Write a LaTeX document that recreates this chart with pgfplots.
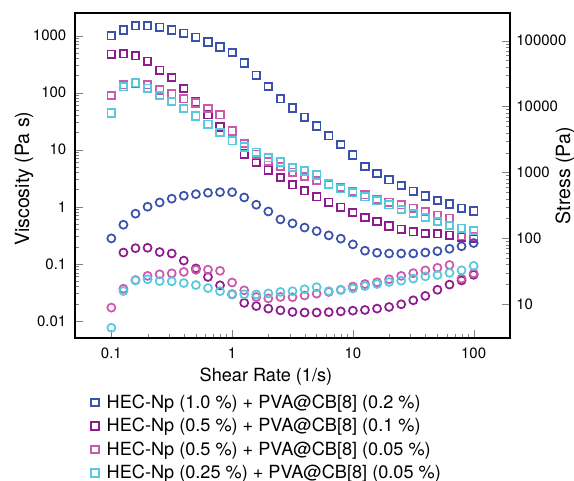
\documentclass[border=0pt]{standalone}
\usepackage{fontspec}
\setmainfont{TeX Gyre Heros}
\usepackage{pgfplots}
\usepackage{pgfplotstable}
\pgfplotsset{compat=1.18}
\definecolor{cblue}{HTML}{3A52AE}
\definecolor{cdark}{HTML}{8E1C8E}
\definecolor{cpink}{HTML}{CA5AAC}
\definecolor{ccyan}{HTML}{58C8DE}

% viscosity (Pa s)
\pgfplotstableread{
x       blue   dark   pink   cyan
0.1     1000   473    89     44
0.1259  1260   484    138    127
0.1585  1500   447    147    149
0.1995  1500   357    138    120
0.2512  1400   248    112    89
0.3162  1260   185    95     70
0.3981  1100   118    78     53
0.5012  940    69     66     39
0.631   775    41     53     28
0.7943  635    25     41     20
1       505    14.4   21.3   14.4
1.259   333    8.4    12.9   11.2
1.585   203    6.0    8.3    9.0
1.995   128    4.35   6.2    7.2
2.512   78     3.25   5.1    6.1
3.162   54     2.43   4.05   4.9
3.981   37     1.9    3.4    4.25
5.012   26     1.5    2.9    3.6
6.31    17.6   1.2    2.44   2.5
7.943   12.4   0.98   2.2    2.07
10      8.1    0.79   1.86   1.76
12.59   5.1    0.65   1.62   1.5
15.85   3.84   0.55   1.36   1.27
19.95   2.97   0.46   1.2    1.08
25.12   2.37   0.405  1.08   0.9
31.62   1.87   0.365  0.94   0.76
39.81   1.54   0.34   0.82   0.65
50.12   1.29   0.335  0.71   0.55
63.1    1.12   0.318  0.63   0.47
79.43   0.94   0.295  0.31   0.42
100     0.84   0.278  0.30   0.385
}\visc

% stress (Pa)
\pgfplotstableread{
x       blue   dark   pink   cyan
0.1     100    nan    8.9    4.4
0.1259  161    61     17.2   15.9
0.1585  237    71     23.3   23
0.1995  302    72     27     24
0.2512  351    62     28.5   22.5
0.3162  400    59     29.5   22.3
0.3981  444    46     31     21
0.5012  469    35     33.3   19.6
0.631   492    26     33.5   17.6
0.7943  503    19.4   32.2   15.8
1       503    14.2   21.4   14.1
1.259   418    10.5   16.3   14.2
1.585   324    9.4    12.9   14.1
1.995   256    8.6    12.3   14.6
2.512   194    8.1    12.9   15.4
3.162   169    7.65   12.8   15.8
3.981   146    7.5    13.6   16.9
5.012   129    7.5    14.5   18.2
6.31    111    7.6    15.4   15.8
7.943   99     7.8    16.6   16.4
10      81     8.0    18.6   17.4
12.59   65     8.2    20.3   18.9
15.85   60.5   8.6    21.6   20.3
19.95   59     9.1    24     21.8
25.12   59     10     27     22.8
31.62   59     11.5   29.7   24.5
39.81   61     13.4   32.7   26.5
50.12   64     16.6   35.8   27.8
63.1    69.5   19.9   39.5   30
79.43   76     23     24.5   32.8
100     85     28     29.5   38.3
}\stress

\tikzset{
  sqm/.style={only marks, mark=square, mark size=2.8pt, line width=1.3pt},
  cim/.style={only marks, mark=o, mark size=3pt, line width=1.3pt},
}

\begin{document}
\begin{tikzpicture}
\useasboundingbox (-56.25pt,-107.25pt) rectangle (374.25pt,253.5pt);
\begin{axis}[
  scale only axis, width=326.25pt, height=243.75pt,
  xmode=log, ymode=log, xmin=0.05, xmax=200,
  ymin=0.005, ymax=2500,
  tick align=inside, major tick length=6pt, minor tick length=3pt,
  axis line style={line width=1pt},
  /pgf/number format/assume math mode=true,
  at={(0,0)}, anchor=south west,
  xtick pos=bottom, ytick pos=left,
  xtick={0.1,1,10,100}, xticklabels={0.1,1,10,100},
  ytick={0.01,0.1,1,10,100,1000}, yticklabels={0.01,0.1,1,10,100,1000},
  xticklabel style={yshift=-4pt, font=\fontsize{11.25}{13}\selectfont},
  yticklabel style={xshift=-3pt, font=\fontsize{11.25}{13}\selectfont},
  xlabel={Shear Rate (1/s)},
  ylabel={Viscosity (Pa s)},
  xlabel style={at={(axis description cs:0.439,-0.119)}, anchor=center, font=\fontsize{13.6}{16}\selectfont},
  ylabel style={at={(axis description cs:-0.117,0.49)}, anchor=center, font=\fontsize{14.7}{17}\selectfont},
  legend cell align=left,
  legend style={draw=none, fill=none, at={(axis description cs:0,0)}, anchor=north west,
    xshift=12pt, yshift=-40.3pt, inner sep=0pt, row sep=2pt, column sep=4pt,
    font=\fontsize{13.6}{16}\selectfont},
]
\addplot[sqm, cblue] table[x=x, y=blue] {\visc};
\addlegendentry{HEC-Np (1.0 \%) + PVA@CB[8] (0.2 \%)}
\addplot[sqm, cdark] table[x=x, y=dark] {\visc};
\addlegendentry{HEC-Np (0.5 \%) + PVA@CB[8] (0.1 \%)}
\addplot[sqm, cpink] table[x=x, y=pink] {\visc};
\addlegendentry{HEC-Np (0.5 \%) + PVA@CB[8] (0.05 \%)}
\addplot[sqm, ccyan] table[x=x, y=cyan] {\visc};
\addlegendentry{HEC-Np (0.25 \%) + PVA@CB[8] (0.05 \%)}
\end{axis}
\begin{axis}[
  scale only axis, width=326.25pt, height=243.75pt,
  xmode=log, ymode=log, xmin=0.05, xmax=200,
  ymin=3.08, ymax=2.63e5,
  tick align=inside, major tick length=6pt, minor tick length=3pt,
  axis line style={line width=1pt},
  /pgf/number format/assume math mode=true,
  at={(0,0)}, anchor=south west,
  axis x line=none, axis y line*=right,
  ytick={10,100,1000,10000,100000}, yticklabels={10,100,1000,10000,100000},
  yticklabel style={xshift=1.25pt, font=\fontsize{11.25}{13}\selectfont},
  ylabel={Stress (Pa)},
  ylabel style={at={(axis description cs:1.1264,0.499)}, anchor=center, font=\fontsize{14.7}{17}\selectfont},
]
\addplot[cim, cblue] table[x=x, y=blue] {\stress};
\addplot[cim, cdark] table[x=x, y=dark] {\stress};
\addplot[cim, cpink] table[x=x, y=pink] {\stress};
\addplot[cim, ccyan] table[x=x, y=cyan] {\stress};
\end{axis}
\end{tikzpicture}
\end{document}
